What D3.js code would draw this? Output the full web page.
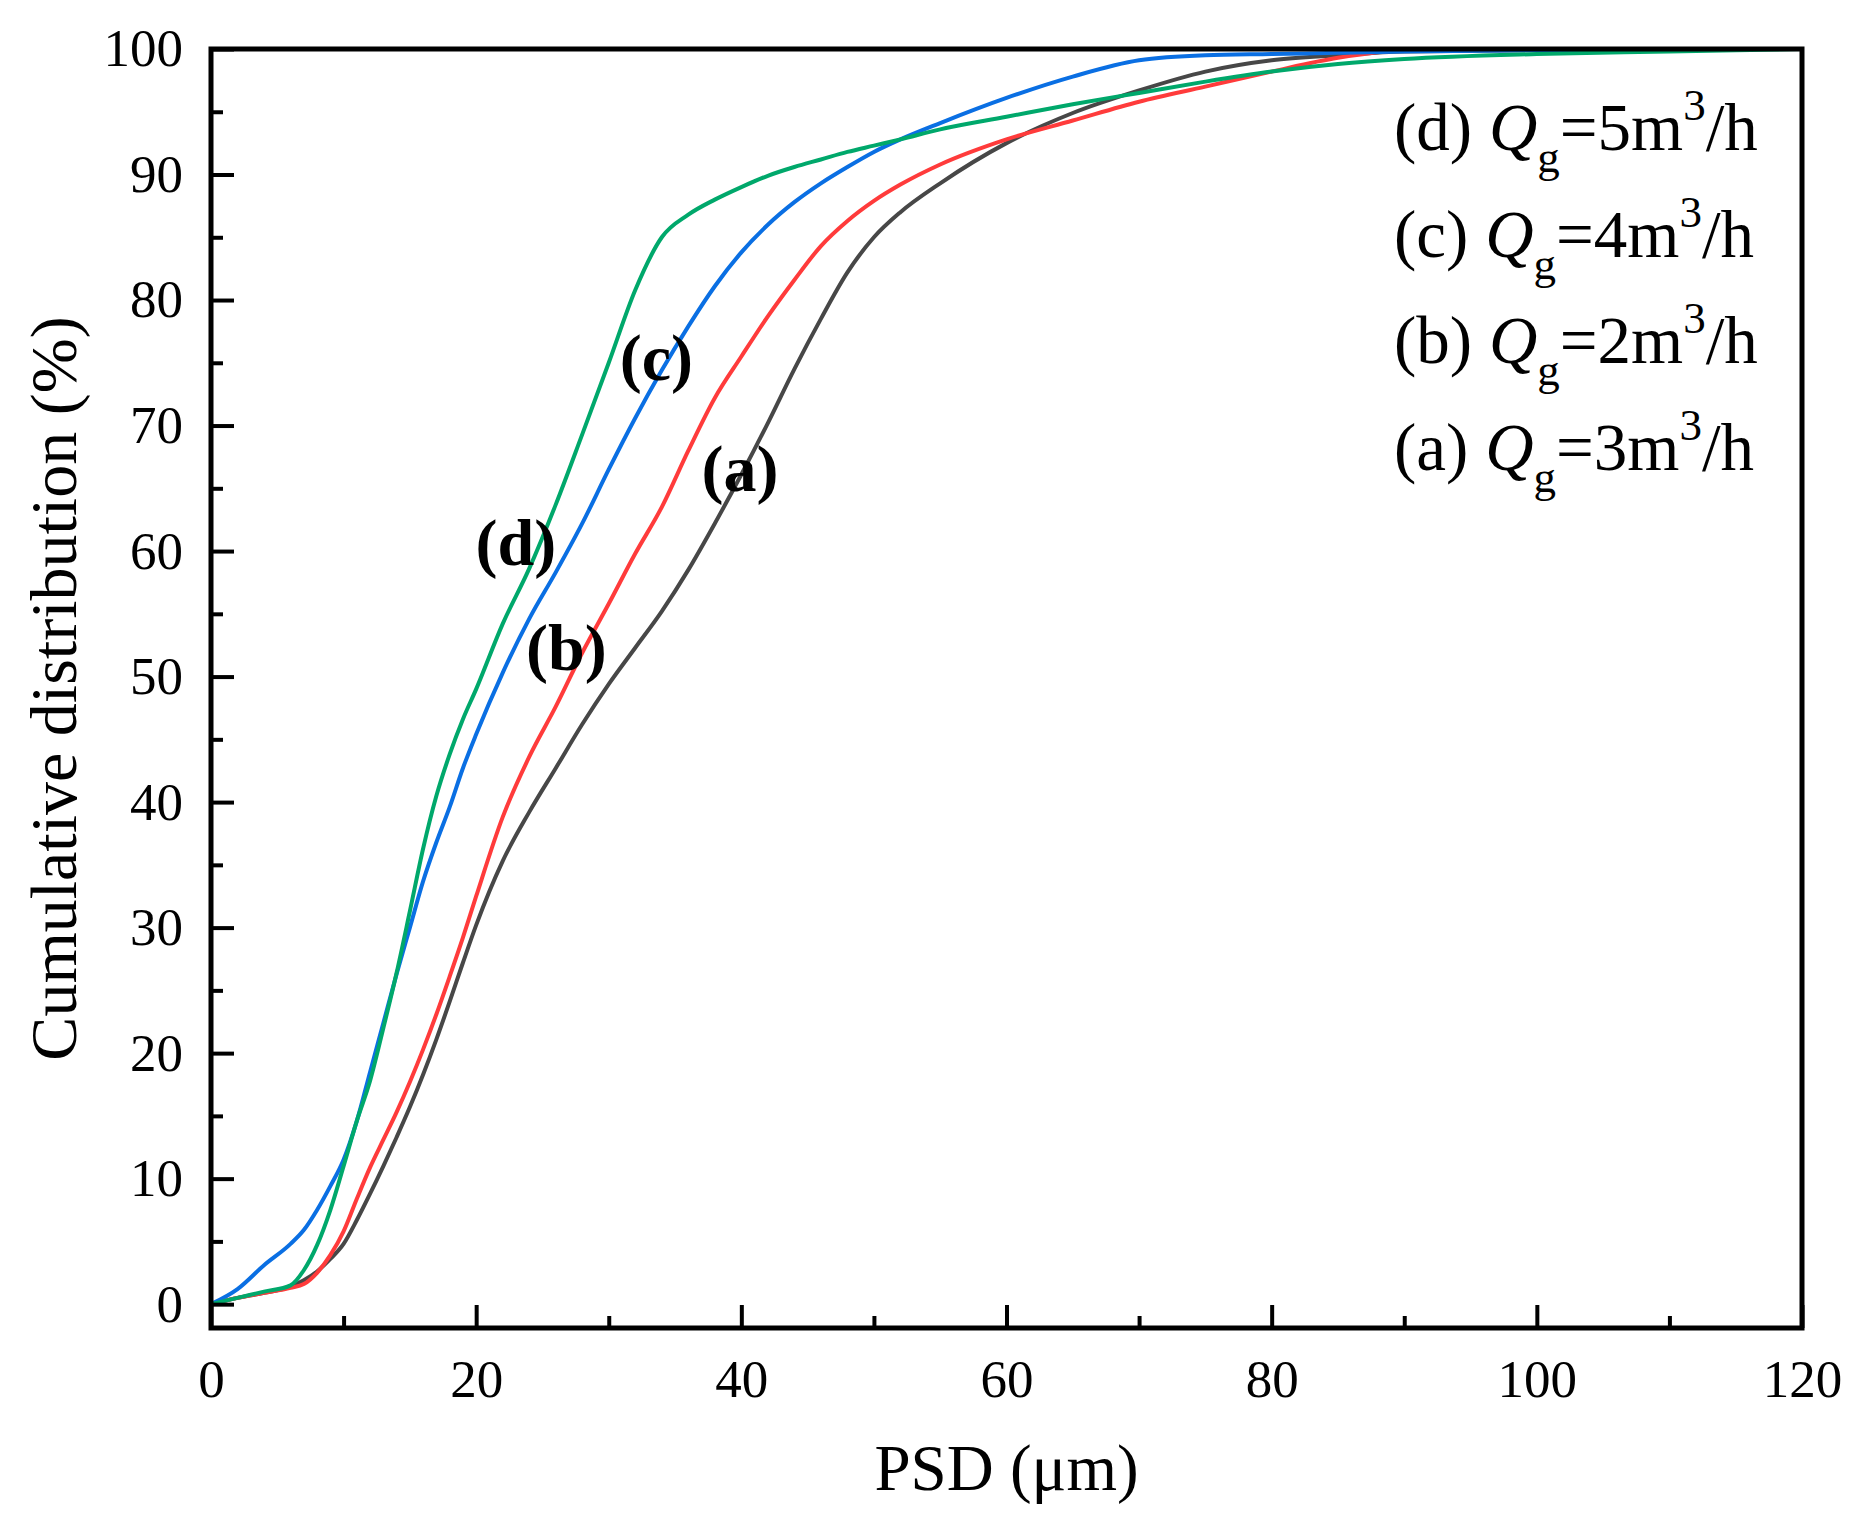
<!DOCTYPE html>
<html>
<head>
<meta charset="utf-8">
<script src="https://cdn.jsdelivr.net/npm/d3@7"></script>
<style>
  body { margin: 0; background: #fff; }
  text { font-family: "Liberation Serif", "Times New Roman", serif; }
</style>
</head>
<body>
<div id="wrapper"></div>
<script>
// PSD grid (µm), shared by all four curves
const psd = [0, 2, 4, 6, 7, 8, 9, 10, 11, 12, 13, 14, 15, 16, 17, 18, 19, 20, 22, 24, 26, 28, 30, 32, 34, 36, 38, 40, 42, 44, 46, 48, 50, 52, 55, 60, 65, 70, 75, 80, 85, 90, 100, 110, 120]

// cumulative distribution (%)
const cumA = [0, 0.5, 0.9, 1.4, 1.9, 2.6, 3.6, 4.8, 6.7, 8.8, 11.0, 13.3, 15.7, 18.3, 21.1, 24.1, 27.2, 30.2, 35.3, 39.2, 42.7, 46.2, 49.4, 52.3, 55.2, 58.5, 62.2, 66.1, 70.2, 74.5, 78.5, 82.2, 85.0, 87.0, 89.3, 92.5, 94.9, 96.7, 98.2, 99.1, 99.5, 99.8, 99.9, 100, 100]
const cumB = [0, 0.5, 0.9, 1.3, 1.6, 2.5, 3.9, 5.8, 8.4, 10.9, 13.1, 15.3, 17.7, 20.3, 23.1, 26.1, 29.2, 32.5, 38.8, 43.6, 47.6, 51.9, 55.8, 59.8, 63.5, 68.0, 72.2, 75.5, 78.7, 81.6, 84.3, 86.3, 87.9, 89.2, 90.8, 92.8, 94.3, 95.8, 97.0, 98.2, 99.3, 99.9, 100, 100, 100]
const cumC = [0, 1.2, 3.1, 4.8, 5.9, 7.5, 9.4, 11.5, 14.6, 18.5, 22.4, 26.3, 30.0, 33.7, 36.8, 39.6, 42.7, 45.4, 50.3, 54.6, 58.3, 62.2, 66.5, 70.6, 74.4, 77.9, 81.1, 83.8, 86.0, 87.8, 89.3, 90.6, 91.8, 92.8, 94.1, 96.1, 97.8, 99.1, 99.5, 99.6, 99.7, 99.8, 99.9, 100, 100]
const cumD = [0, 0.5, 1.0, 1.5, 2.7, 4.7, 7.5, 11.0, 14.6, 17.8, 22.0, 26.4, 31.3, 36.3, 40.5, 43.8, 46.6, 49.0, 54.2, 58.6, 63.7, 69.3, 75.0, 80.8, 85.0, 86.8, 88.0, 89.0, 89.9, 90.6, 91.2, 91.8, 92.3, 92.8, 93.6, 94.6, 95.6, 96.5, 97.4, 98.2, 98.8, 99.2, 99.6, 99.8, 100]

const seriesKeys = ["a", "b", "c", "d"]
const seriesColors = ["#474747", "#ff3b3b", "#0a6fe3", "#00a86b"]
const seriesValues = [cumA, cumB, cumC, cumD]

// legend entries, top to bottom
const legendTags = ["(d)", "(c)", "(b)", "(a)"]
const legendFlows = ["5", "4", "2", "3"]

// in-plot curve tags and where they sit (data coords)
const tagText = ["(c)", "(a)", "(d)", "(b)"]
const tagX = [33.6, 39.9, 23.0, 26.8]
const tagY = [73.6, 64.8, 58.9, 50.5]

const xTicks = [0, 20, 40, 60, 80, 100, 120]
const xMinor = [10, 30, 50, 70, 90, 110]
const yTicks = [0, 10, 20, 30, 40, 50, 60, 70, 80, 90, 100]
const yMinor = [5, 15, 25, 35, 45, 55, 65, 75, 85, 95]

// chart dimensions
let dimensions = {
    width: 1872,
    height: 1516,
    margin: { top: 49, right: 70, bottom: 188, left: 211 },
}
dimensions.boundedWidth = dimensions.width - dimensions.margin.left - dimensions.margin.right
dimensions.boundedHeight = dimensions.height - dimensions.margin.top - dimensions.margin.bottom

const svg = d3.select("#wrapper")
    .append("svg")
    .attr("width", dimensions.width)
    .attr("height", dimensions.height)

const bounds = svg.append("g")
    .attr("transform", `translate(${dimensions.margin.left},${dimensions.margin.top})`)

// scales
const xScale = d3.scaleLinear()
    .domain([0, 120])
    .range([0, dimensions.boundedWidth])

const yScale = d3.scaleLinear()
    .domain([-1.9, 100])
    .range([dimensions.boundedHeight, 0])

// curves
const line = d3.line()
    .x(d => xScale(d[0]))
    .y(d => yScale(d[1]))
    .curve(d3.curveMonotoneX)

seriesValues.forEach((vals, i) => {
    bounds.append("path")
        .datum(psd.map((x, j) => [x, vals[j]]))
        .attr("fill", "none")
        .attr("stroke", seriesColors[i])
        .attr("stroke-width", 4)
        .attr("stroke-linejoin", "round")
        .attr("d", line)
})

// axes, ticks point inwards
const tickFont = g => g.selectAll("text")
    .style("font-family", "'Liberation Serif', serif")
    .style("font-size", "53px")
    .attr("fill", "#000")

bounds.append("g")
    .attr("transform", `translate(0,${dimensions.boundedHeight})`)
    .call(d3.axisBottom(xScale).tickValues(xTicks).tickSize(-23).tickSizeOuter(0).tickPadding(31))
    .call(tickFont)
bounds.append("g")
    .attr("transform", `translate(0,${dimensions.boundedHeight})`)
    .call(d3.axisBottom(xScale).tickValues(xMinor).tickSize(-12).tickSizeOuter(0).tickFormat(""))

bounds.append("g")
    .call(d3.axisLeft(yScale).tickValues(yTicks).tickSize(-23).tickSizeOuter(0).tickPadding(28))
    .call(tickFont)
bounds.append("g")
    .call(d3.axisLeft(yScale).tickValues(yMinor).tickSize(-12).tickSizeOuter(0).tickFormat(""))

bounds.selectAll(".domain").remove()
bounds.selectAll(".tick line").attr("stroke", "#000").attr("stroke-width", 4)

// frame
bounds.append("rect")
    .attr("width", dimensions.boundedWidth)
    .attr("height", dimensions.boundedHeight)
    .attr("fill", "none")
    .attr("stroke", "#000")
    .attr("stroke-width", 5)

// curve tags
bounds.selectAll(".tag")
    .data(tagText)
    .join("text")
    .attr("class", "tag")
    .attr("x", (d, i) => xScale(tagX[i]))
    .attr("y", (d, i) => yScale(tagY[i]))
    .attr("text-anchor", "middle")
    .style("font-size", "66px")
    .style("font-weight", "bold")
    .text(d => d)

// legend
const legend = svg.append("g")
legendTags.forEach((tag, i) => {
    const t = legend.append("text")
        .attr("x", 1394)
        .attr("y", 150 + i * 106.5)
        .style("font-size", "67px")
    t.append("tspan").text(tag + " ")
    t.append("tspan").style("font-style", "italic").text("Q")
    t.append("tspan").attr("dy", 22).style("font-size", "45px").text("g")
    t.append("tspan").attr("dy", -22).text("=" + legendFlows[i] + "m")
    t.append("tspan").attr("dy", -30).style("font-size", "45px").text("3")
    t.append("tspan").attr("dy", 30).text("/h")
})

// axis titles
svg.append("text")
    .attr("x", dimensions.margin.left + dimensions.boundedWidth / 2)
    .attr("y", 1490)
    .attr("text-anchor", "middle")
    .style("font-size", "65px")
    .text("PSD (μm)")

svg.append("text")
    .attr("transform", `translate(76,${dimensions.margin.top + dimensions.boundedHeight / 2}) rotate(-90)`)
    .attr("text-anchor", "middle")
    .style("font-size", "66px")
    .text("Cumulative distribution (%)")
</script>
</body>
</html>
